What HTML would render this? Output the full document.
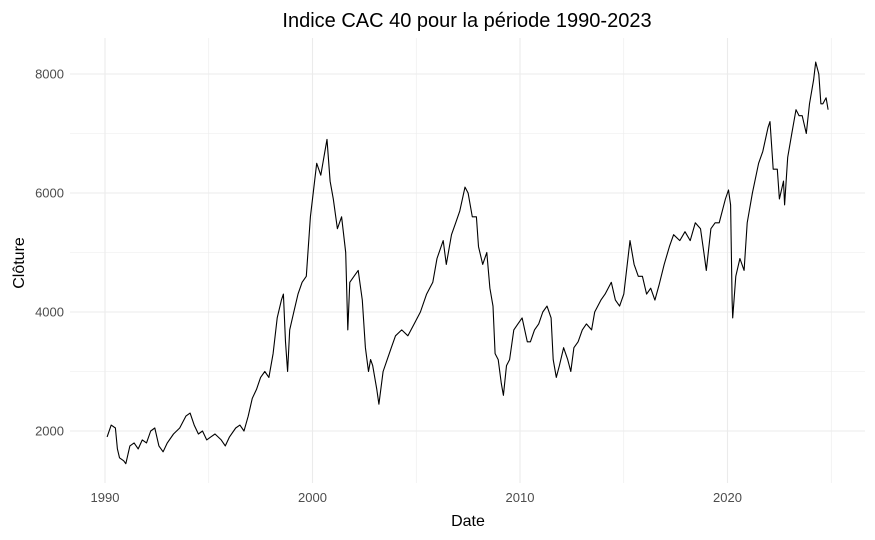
<!DOCTYPE html>
<html><head><meta charset="utf-8">
<style>
html,body{margin:0;padding:0;background:#fff;}
svg{display:block;font-family:"Liberation Sans",sans-serif;}
</style></head>
<body>
<svg id="chart" width="875" height="540" viewBox="0 0 875 540">
  <text x="467" y="27" text-anchor="middle" font-size="20" fill="#000">Indice CAC 40 pour la période 1990-2023</text>
  <g id="grid"></g>
  <g id="axes"></g>
  <path id="line" fill="none" stroke="#000" stroke-width="1.1" stroke-linejoin="round"/>
  <text x="468" y="526" text-anchor="middle" font-size="16" fill="#000">Date</text>
  <text transform="translate(24,263) rotate(-90)" text-anchor="middle" font-size="16" fill="#000">Clôture</text>
</svg>
<script>
const years = [1990.1,1990.3,1990.5,1990.6,1990.7,1990.9,1991.0,1991.2,1991.4,1991.6,1991.8,1992.0,1992.2,1992.4,1992.6,1992.8,1993.0,1993.3,1993.6,1993.9,1994.1,1994.3,1994.5,1994.7,1994.9,1995.1,1995.3,1995.6,1995.8,1996.0,1996.3,1996.5,1996.7,1996.9,1997.1,1997.3,1997.5,1997.7,1997.9,1998.1,1998.3,1998.5,1998.6,1998.7,1998.8,1998.9,1999.1,1999.3,1999.5,1999.7,1999.9,2000.0,2000.2,2000.4,2000.6,2000.7,2000.85,2001.0,2001.2,2001.4,2001.6,2001.7,2001.8,2002.0,2002.2,2002.4,2002.55,2002.7,2002.8,2002.9,2003.1,2003.2,2003.4,2003.6,2003.8,2004.0,2004.3,2004.6,2004.9,2005.2,2005.5,2005.8,2006.0,2006.3,2006.45,2006.7,2006.9,2007.1,2007.35,2007.5,2007.7,2007.9,2008.0,2008.2,2008.4,2008.55,2008.7,2008.8,2008.95,2009.1,2009.2,2009.35,2009.5,2009.7,2009.9,2010.1,2010.35,2010.5,2010.7,2010.9,2011.1,2011.3,2011.5,2011.6,2011.75,2011.9,2012.1,2012.3,2012.45,2012.6,2012.8,2013.0,2013.2,2013.45,2013.6,2013.9,2014.1,2014.4,2014.6,2014.8,2015.0,2015.3,2015.5,2015.7,2015.9,2016.1,2016.3,2016.5,2016.7,2016.95,2017.2,2017.4,2017.7,2017.95,2018.2,2018.45,2018.7,2018.9,2018.98,2019.2,2019.4,2019.6,2019.9,2020.05,2020.15,2020.22,2020.25,2020.4,2020.6,2020.8,2020.95,2021.2,2021.5,2021.7,2021.95,2022.05,2022.2,2022.4,2022.5,2022.7,2022.75,2022.9,2023.1,2023.3,2023.45,2023.6,2023.8,2023.95,2024.15,2024.25,2024.4,2024.5,2024.6,2024.75,2024.85];
const closes = [1900,2100,2050,1700,1550,1500,1450,1750,1800,1700,1850,1800,2000,2050,1750,1650,1800,1950,2050,2250,2300,2100,1950,2000,1850,1900,1950,1850,1750,1900,2050,2100,2000,2250,2550,2700,2900,3000,2900,3300,3900,4200,4300,3500,3000,3700,4000,4300,4500,4600,5600,5900,6500,6300,6700,6900,6200,5900,5400,5600,5000,3700,4500,4600,4700,4200,3400,3000,3200,3100,2700,2450,3000,3200,3400,3600,3700,3600,3800,4000,4300,4500,4900,5200,4800,5300,5500,5700,6100,6000,5600,5600,5100,4800,5000,4400,4100,3300,3200,2800,2600,3100,3200,3700,3800,3900,3500,3500,3700,3800,4000,4100,3900,3200,2900,3100,3400,3200,3000,3400,3500,3700,3800,3700,4000,4200,4300,4500,4200,4100,4300,5200,4800,4600,4600,4300,4400,4200,4450,4800,5100,5300,5200,5350,5200,5500,5400,4900,4700,5400,5500,5500,5900,6050,5800,4200,3900,4600,4900,4700,5500,6000,6500,6700,7100,7200,6400,6400,5900,6200,5800,6600,7000,7400,7300,7300,7000,7500,7900,8200,8000,7500,7500,7600,7400];
const yTicks = [2000,4000,6000,8000];
const yMinor = [3000,5000,7000];
const xTicks = [1990,2000,2010,2020];
const xMinor = [1995,2005,2015,2025];

const X0=70, X1=865, Y0=38, Y1=483;
function xs(v){ return 105 + (v-1990)*20.75; }
function ys(v){ return 431 - (v-2000)*(357/6000); }
const NS='http://www.w3.org/2000/svg';
const grid=document.getElementById('grid'), axes=document.getElementById('axes');
function line(x1,y1,x2,y2,w,name){
  const l=document.createElementNS(NS,'line');
  l.setAttribute('x1',x1);l.setAttribute('y1',y1);l.setAttribute('x2',x2);l.setAttribute('y2',y2);
  l.setAttribute('stroke','#ebebeb');l.setAttribute('stroke-width',w);
  
  
  grid.appendChild(l);
}
function label(x,y,t,anchor,name){
  const e=document.createElementNS(NS,'text');
  e.setAttribute('x',x);e.setAttribute('y',y);e.setAttribute('text-anchor',anchor);
  e.setAttribute('font-size','13');e.setAttribute('fill','#4d4d4d');
  e.textContent=t;
  
  
  axes.appendChild(e);
}
yMinor.forEach(v=>line(X0,ys(v),X1,ys(v),0.6,'y-minor-gridline'));
xMinor.forEach(v=>line(xs(v),Y0,xs(v),Y1,0.6,'x-minor-gridline'));
yTicks.forEach(v=>{line(X0,ys(v),X1,ys(v),1.1,'y-major-gridline');label(64,ys(v)+4.5,String(v),'end','y-tick-label');});
xTicks.forEach(v=>{line(xs(v),Y0,xs(v),Y1,1.1,'x-major-gridline');label(xs(v),502,String(v),'middle','x-tick-label');});
let d='';
years.forEach((y,i)=>{ d+=(i?'L':'M')+xs(y).toFixed(1)+','+ys(closes[i]).toFixed(1); });
document.getElementById('line').setAttribute('d',d);
</script>
</body></html>
